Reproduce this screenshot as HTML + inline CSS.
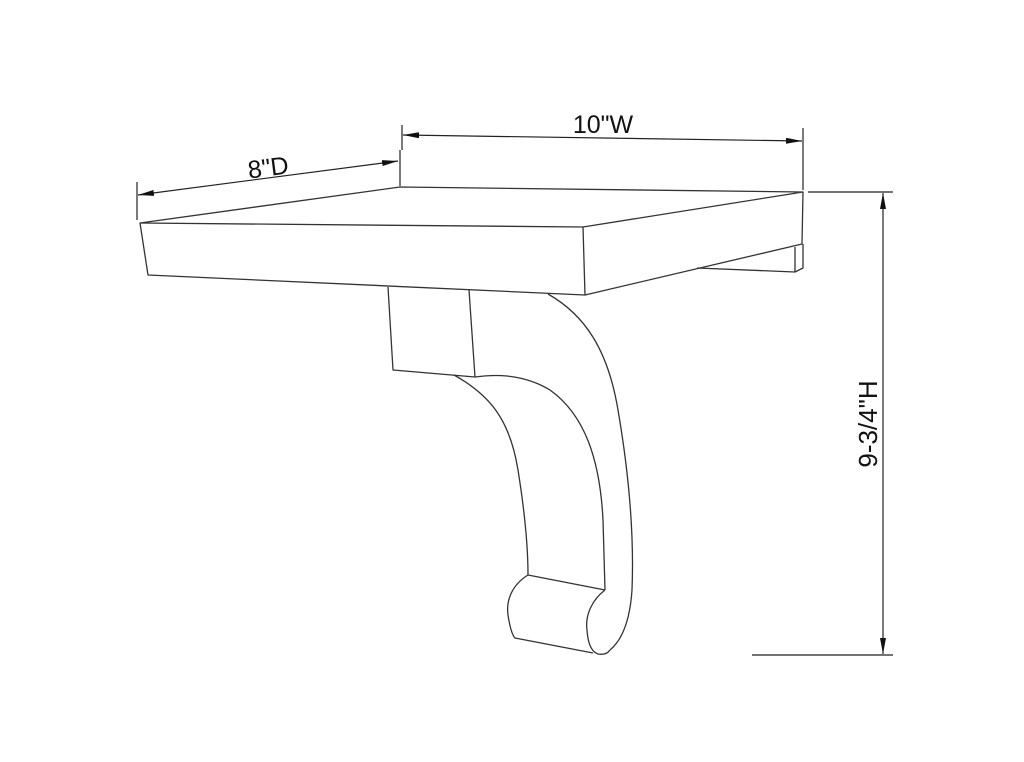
<!DOCTYPE html>
<html><head><meta charset="utf-8"><style>
html,body{margin:0;padding:0;background:#fff;}
svg{display:block;}
text{font-family:"Liberation Sans",sans-serif;fill:#111;}
</style></head><body>
<svg width="1024" height="762" viewBox="0 0 1024 762" xmlns="http://www.w3.org/2000/svg">
<defs>
<marker id="ar" viewBox="0 0 10 10" refX="10" refY="5" markerWidth="16" markerHeight="6" markerUnits="userSpaceOnUse" orient="auto-start-reverse" preserveAspectRatio="none"><path d="M0,0 L10,5 L0,10 z" fill="#111"/></marker>
</defs>
<g fill="none" stroke="#333" stroke-width="1.3" stroke-linejoin="round">
<path d="M140,223 L400,187 L803,192 L583,227 Z"/>
<path d="M140,223 L148,275 L585,295 L583,227"/>
<path d="M585,295 L802,244 L803,192"/>
<path d="M697,268 L795,272 L803,268 L803,244"/>
<path d="M795,247 L795,272"/>
<path d="M388,287 L393,370 L475,377 L469,290"/>
<path d="M454,375 C490,395 510,420 518,470 C526,520 528,550 528,575"/>
<path d="M475,377 C490,375 520,372 550,390 C585,415 600,460 603,520 L605,590"/>
<path d="M548,294 C585,315 608,350 618,410 C630,480 634,540 632,590 C630,620 622,640 610,650"/>
<path d="M528,575 L605,590"/>
<path d="M528,575 C512,585 506,600 508,615 C510,628 512,635 515,638 L593,653"/>
<path d="M605,590 C592,600 585,615 587,630 C588,645 592,652 598,654 C604,655 608,653 610,650"/>
</g>
<g stroke="#222" stroke-width="1.2" fill="none">
<line x1="137" y1="182" x2="137" y2="220"/>
<line x1="400" y1="150" x2="400" y2="186"/>
<line x1="138" y1="195" x2="398" y2="161" marker-start="url(#ar)" marker-end="url(#ar)"/>
<line x1="402" y1="125" x2="402" y2="150"/>
<line x1="803" y1="128" x2="803" y2="190"/>
<line x1="403" y1="135" x2="802" y2="141" marker-start="url(#ar)" marker-end="url(#ar)"/>
<line x1="808" y1="192" x2="893" y2="192"/>
<line x1="752" y1="655" x2="893" y2="655"/>
<line x1="883" y1="193" x2="883" y2="654" marker-start="url(#ar)" marker-end="url(#ar)"/>
</g>
<text x="603" y="133" font-size="25" text-anchor="middle">10"W</text>
<text x="268" y="176" font-size="25" text-anchor="middle" transform="rotate(-7.5 268 166)">8"D</text>
<text x="0" y="0" font-size="26" text-anchor="middle" transform="translate(877,424) rotate(-90)">9-3/4"H</text>
</svg>
</body></html>
